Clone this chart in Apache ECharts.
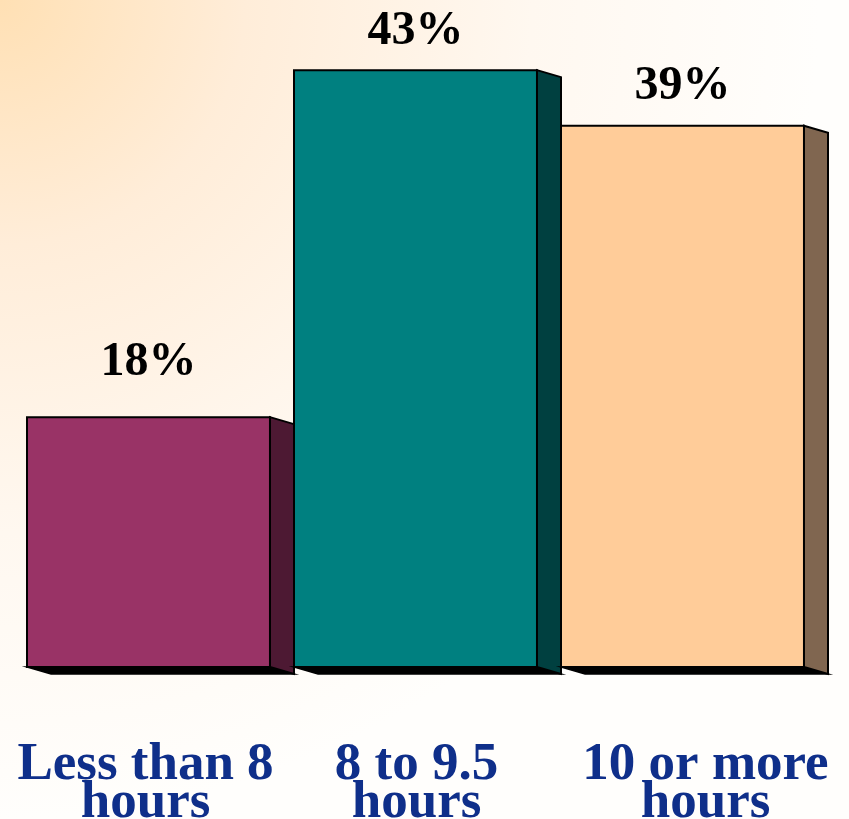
<!DOCTYPE html>
<html>
<head>
<meta charset="utf-8">
<script src="https://cdn.jsdelivr.net/npm/echarts@6/dist/echarts.min.js"></script>
<style>
  html, body { margin: 0; padding: 0; }
  #chart { width: 849px; height: 819px; }
</style>
</head>
<body>
<div id="chart"></div>
<script>
// ---- data ----
const categories = ['Less than 8\nhours', '8 to 9.5\nhours', '10 or more\nhours'];
const values = [18, 43, 39];
const valueLabels = ['18%', '43%', '39%'];

// ---- styles ----
const frontColors = ['#993366', '#008080', '#FFCC99'];
const sideColors = ['#4D1933', '#004040', '#806650'];
const labelLift = [31, 15, 15];
const catRich = ['l', 'm', 'r'];

const chart = echarts.init(document.getElementById('chart'));

const catFont = { fontFamily: 'Liberation Serif', fontWeight: 'bold', fontSize: 53, lineHeight: 38, color: '#0F2F8A' };

const option = {
  backgroundColor: {
    type: 'radial', x: 0, y: 0, r: 1,
    colorStops: [
      { offset: 0, color: '#FFE0B4' },
      { offset: 0.3, color: '#FFEDD9' },
      { offset: 0.65, color: '#FFF8F0' },
      { offset: 1, color: '#FFFEFC' }
    ]
  },
  animation: false,
  grid: { left: 27, right: 21, top: 42.4, bottom: 152, containLabel: false, outerBoundsMode: 'none' },
  xAxis: {
    type: 'category',
    data: categories,
    axisLine: { show: false },
    axisTick: { show: false },
    axisLabel: {
      interval: 0,
      margin: 79,
      hideOverlap: false,
      formatter: function (val, idx) {
        const k = catRich[idx];
        return val.split('\n').map(function (s) { return '{' + k + '|' + s + '}'; }).join('\n');
      },
      rich: {
        l: Object.assign({ padding: [0, 30, 0, 0] }, catFont),
        m: Object.assign({ padding: [0, 22, 0, 0] }, catFont),
        r: Object.assign({ padding: [0, 0, 0, 22] }, catFont)
      }
    }
  },
  yAxis: { type: 'value', min: 0, max: 45, show: false, splitLine: { show: false } },
  series: [{
    type: 'custom',
    data: values.map(function (v, i) { return [i, v]; }),
    renderItem: function (params, api) {
      const i = api.value(0);
      const v = api.value(1);
      const top = api.coord([i, v]);
      const base = api.coord([i, 0]);
      const w = api.size([1, 0])[0];
      const left = base[0] - w / 2;
      const fw = w * 0.91;
      const dx = w - fw;
      const dy = 7;
      const yT = top[1], yB = base[1];
      const stroke = { stroke: '#000', lineWidth: 2 };
      return {
        type: 'group',
        children: [
          {
            type: 'polygon',
            shape: { points: [[left, yB], [left + fw, yB], [left + fw + dx, yB + dy], [left + dx, yB + dy]] },
            style: { fill: '#000', stroke: '#000', lineWidth: 1.5 }
          },
          {
            type: 'polygon',
            shape: { points: [[left + fw, yT], [left + fw + dx, yT + dy], [left + fw + dx, yB + dy], [left + fw, yB]] },
            style: Object.assign({ fill: sideColors[i] }, stroke)
          },
          {
            type: 'rect',
            shape: { x: left, y: yT, width: fw, height: yB - yT },
            style: Object.assign({ fill: frontColors[i] }, stroke)
          },
          {
            type: 'text',
            style: {
              x: left + fw / 2, y: yT - labelLift[i],
              text: valueLabels[i],
              align: 'center', verticalAlign: 'bottom',
              font: 'bold 48px "Liberation Serif"',
              fill: '#000'
            }
          }
        ]
      };
    }
  }]
};
chart.setOption(option);
</script>
</body>
</html>
